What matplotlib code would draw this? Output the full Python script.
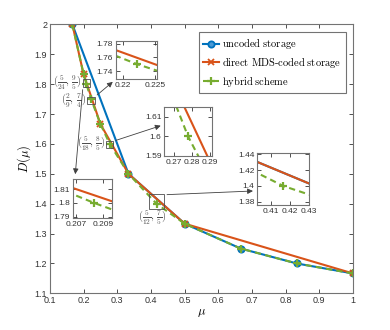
import matplotlib
matplotlib.use("Agg")
import matplotlib.pyplot as plt
from matplotlib.patches import Rectangle
from matplotlib.ticker import FormatStrFormatter

plt.rcParams['font.family'] = ['Liberation Sans', 'DejaVu Sans']
plt.rcParams['mathtext.fontset'] = 'cm'

# data
mu_unc = [1/6, 1/3, 1/2, 2/3, 5/6, 1]
D_unc = [2, 1.5, 1.3333, 1.25, 1.2, 1.1667]

mu_mds = [1/6, 1/5, 1/4, 1/3, 1/2, 1]
D_mds = [2, 1.8333, 1.6667, 1.5, 1.3333, 1.1667]

mu_hyb = [1/6, 1/5, 5/24, 2/9, 1/4, 5/18, 1/3, 5/12, 1/2, 2/3, 5/6, 1]
D_hyb = [2, 1.8333, 1.8, 1.75, 1.6667, 1.6, 1.5, 1.4, 1.3333, 1.25, 1.2, 1.1667]

x_ticks = [0.1, 0.2, 0.3, 0.4, 0.5, 0.6, 0.7, 0.8, 0.9, 1]
y_ticks = [1.1, 1.2, 1.3, 1.4, 1.5, 1.6, 1.7, 1.8, 1.9, 2]

# highlighted points and their labels
pt_mu = [5/24, 2/9, 5/18, 5/12]
pt_D = [9/5, 7/4, 8/5, 7/5]
pt_labels = [r'$(\frac{5}{24},\,\frac{9}{5})$', r'$(\frac{2}{9},\,\frac{7}{4})$',
             r'$(\frac{5}{18},\,\frac{8}{5})$', r'$(\frac{5}{12},\,\frac{7}{5})$']

BLUE = '#0072BD'
ORANGE = '#D95319'
GREEN = '#77AC30'
EDGE = '0.45'


def draw_series(ax):
    ax.plot(mu_unc, D_unc, '-o', color=BLUE, lw=1.5, ms=4.5, mew=1.3,
            mfc='#4a9ad6', label=r'$\mathrm{uncoded\ storage}$')
    ax.plot(mu_mds, D_mds, '-x', color=ORANGE, lw=1.5, ms=4.5, mew=1.3,
            label=r'$\mathrm{direct\ MDS\text{-}coded\ storage}$')
    ax.plot(mu_hyb, D_hyb, '--+', color=GREEN, lw=1.5, ms=6, mew=1.6,
            dashes=(3, 2), label=r'$\mathrm{hybrid\ scheme}$')


def style_axes(ax, fs):
    ax.tick_params(direction='in', top=True, right=True, labelsize=fs,
                   length=3, width=0.6, colors='0.2', pad=2)
    for s in ax.spines.values():
        s.set_color(EDGE)
        s.set_linewidth(0.8)


fig = plt.figure(figsize=(3.9, 3.3), dpi=100)
ax = fig.add_axes([0.128, 0.111, 0.777, 0.815])
draw_series(ax)
ax.set_xlim(0.1, 1)
ax.set_ylim(1.1, 2)
ax.set_xticks(x_ticks)
ax.set_yticks(y_ticks)
ax.xaxis.set_major_formatter(FormatStrFormatter('%g'))
ax.yaxis.set_major_formatter(FormatStrFormatter('%g'))
style_axes(ax, 6.5)
ax.set_xlabel(r'$\mu$', fontsize=9, labelpad=1)
ax.set_ylabel(r'$D(\mu)$', fontsize=9, labelpad=1)

leg = ax.legend(loc='upper right', bbox_to_anchor=(0.977, 0.97), fontsize=7.5,
                handlelength=1.5, handletextpad=0.3, borderpad=0.45,
                labelspacing=0.45, fancybox=False, framealpha=1,
                edgecolor=EDGE, borderaxespad=0)
leg.get_frame().set_linewidth(0.8)

# boxes around the highlighted points (width, height in data units)
box_w = [0.021, 0.024, 0.02, 0.045]
box_h = [0.027, 0.025, 0.022, 0.05]
box_dy = [0.005, -0.004, -0.001, 0.009]
for m, d, w, h, dy in zip(pt_mu, pt_D, box_w, box_h, box_dy):
    ax.add_patch(Rectangle((m - w / 2, d + dy - h / 2), w, h, fill=False,
                           lw=0.6, ec='0.3', zorder=5))

# labels next to boxes
lab_pos = [(0.196, 1.806), (0.209, 1.746), (0.266, 1.6), (0.404, 1.352)]
lab_ha = ['right', 'right', 'right', 'center']
for (lx, ly), t, ha in zip(lab_pos, pt_labels, lab_ha):
    ax.text(lx, ly, t, fontsize=7.5, ha=ha, va='center', color='0.3')

# zoomed insets: [left, bottom, width, height], xlim, ylim, ticks
insets = [
    ([0.2967, 0.7597, 0.1051, 0.1152], (0.2188, 0.2253), (1.728, 1.7835),
     [0.22, 0.225], [1.74, 1.76, 1.78]),
    ([0.4213, 0.5273, 0.1231, 0.1476], (0.2647, 0.2912), (1.5898, 1.615),
     [0.27, 0.28, 0.29], [1.59, 1.6, 1.61]),
    ([0.1864, 0.3385, 0.1000, 0.1182], (0.20676, 0.20961), (1.789, 1.817),
     [0.207, 0.209], [1.79, 1.8, 1.81]),
    ([0.6597, 0.3788, 0.1333, 0.1585], (0.403, 0.4303), (1.376, 1.442),
     [0.41, 0.42, 0.43], [1.38, 1.4, 1.42, 1.44]),
]
in_axes = []
for rect, xl, yl, xt, yt in insets:
    a = fig.add_axes(rect)
    draw_series(a)
    a.set_xlim(*xl)
    a.set_ylim(*yl)
    a.set_xticks(xt)
    a.set_yticks(yt)
    a.xaxis.set_major_formatter(FormatStrFormatter('%g'))
    a.yaxis.set_major_formatter(FormatStrFormatter('%g'))
    style_axes(a, 6)
    in_axes.append(a)

# arrows from boxes to insets
arrow_kw = dict(arrowstyle='-|>', color='0.25', lw=0.6, mutation_scale=8)
# (2/9, 7/4) -> top inset
ax.annotate('', xy=(-0.02, -0.02), xycoords=in_axes[0].transAxes,
            xytext=(0.234, 1.758), textcoords='data', arrowprops=arrow_kw)
# (5/18, 8/5) -> middle inset
ax.annotate('', xy=(-0.02, 0.64), xycoords=in_axes[1].transAxes,
            xytext=(0.288, 1.609), textcoords='data', arrowprops=arrow_kw)
# (5/24, 9/5) -> lower-left inset
ax.annotate('', xy=(0.06, 1.06), xycoords=in_axes[2].transAxes,
            xytext=(0.198, 1.791), textcoords='data', arrowprops=arrow_kw)
# (5/12, 7/5) -> right inset
ax.annotate('', xy=(-0.03, 0.27), xycoords=in_axes[3].transAxes,
            xytext=(0.4395, 1.43), textcoords='data', arrowprops=arrow_kw)

fig.savefig('out.png', dpi=100)
